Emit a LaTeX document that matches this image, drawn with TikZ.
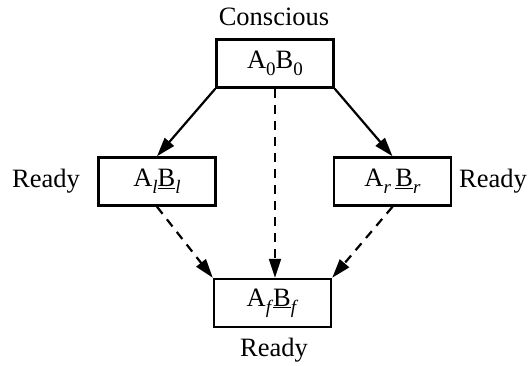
\documentclass[tikz,border=0pt]{standalone}
\usepackage{fontspec}
\setmainfont{Liberation Serif}
\usetikzlibrary{arrows.meta}
\newcommand{\lowsub}[1]{\raisebox{-0.28em}{\fontsize{19}{20}\selectfont #1}}
\newcommand{\ulB}{\underline{B}}
\begin{document}
\begin{tikzpicture}[x=1pt,y=-1pt,
  box/.style={draw,line width=2.5pt,minimum width=117pt,minimum height=48pt,inner sep=0pt,font=\fontsize{26.5}{30}\selectfont},
  lab/.style={font=\fontsize{26.5}{30}\selectfont,inner sep=0pt},
  arr/.style={line width=2.2pt,-{Triangle[length=19pt,width=12pt]}},
  darr/.style={arr,dash pattern=on 9pt off 7pt}]
\useasboundingbox (0,0) rectangle (532,366);
\node[box] (t) at (275,63.5) {A\lowsub{0}B\lowsub{0}};
\node[box] (l) at (157,181.5) {A\lowsub{\textit{l}}\ulB\lowsub{\textit{l}}};
\node[box] (r) at (392.5,181.5) {A\lowsub{\textit{r}}\,\ulB\lowsub{\textit{r}}};
\node[box] (f) at (272.5,303) {A\lowsub{\textit{f}}\ulB\lowsub{\textit{f}}};
\node[lab] (c) at (274,17) {Conscious};
\node[lab] (rl) at (46,181) {Ready};
\node[lab] (rr) at (493,181) {Ready};
\node[lab] (rf) at (274,350) {Ready};
\draw[arr] (t.south west) -- (l.north);
\draw[arr] (t.south east) -- (r.north);
\draw[darr] (t.south) -- (f.north -| t.south);
\draw[darr] (l.south) -- (f.north west);
\draw[darr] (r.south) -- (f.north east);
\end{tikzpicture}
\end{document}
